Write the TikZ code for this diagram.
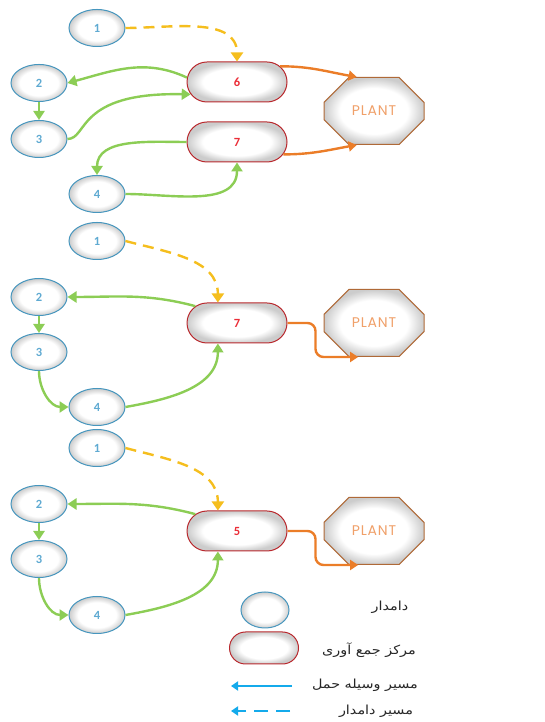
\documentclass[tikz,border=0pt]{standalone}
\usepackage{fontspec}
\setmainfont{Carlito}
\newfontfamily\plantfont[LetterSpace=6]{Poppins}
\newfontfamily\farsi[Script=Arabic,FakeStretch=1.15]{DejaVu Sans}
\TeXXeTstate=1
\usetikzlibrary{shapes.geometric,shapes.misc,arrows.meta,calc}

\definecolor{nodeblue}{RGB}{70,150,190}
\definecolor{numblue}{RGB}{95,170,210}
\definecolor{hubred}{RGB}{185,40,45}
\definecolor{numred}{RGB}{235,45,55}
\definecolor{plantbrown}{RGB}{175,105,55}
\definecolor{plantorange}{RGB}{240,160,105}
\definecolor{routegreen}{RGB}{140,205,85}
\definecolor{routeorange}{RGB}{235,125,40}
\definecolor{routeyellow}{RGB}{245,190,30}
\definecolor{legendblue}{RGB}{20,170,235}

\pgfdeclareradialshading{rim}{\pgfpoint{0bp}{0bp}}{color(0bp)=(white); color(17bp)=(white); color(25bp)=(black!20); color(50bp)=(black!20)}

\begin{document}
\begin{tikzpicture}[
    x=1pt, y=1pt,
    farm/.style={ellipse, draw=nodeblue, line width=1pt, shading=rim, minimum width=56pt, minimum height=37pt, inner sep=0pt, font=\bfseries\fontsize{12.5}{14}\selectfont, text=numblue},
    hub/.style={rounded rectangle, draw=hubred, line width=1pt, shading=rim, minimum width=100pt, minimum height=40pt, inner sep=0pt, font=\bfseries\fontsize{12.5}{14}\selectfont, text=numred},
    plant/.style={chamfered rectangle, chamfered rectangle xsep=29pt, chamfered rectangle ysep=20pt, draw=plantbrown, line width=1pt, shading=rim, minimum width=100pt, minimum height=67pt, inner sep=0pt, font=\plantfont\fontsize{14}{16}\selectfont, text=plantorange},
    route/.style={-{Triangle[width=11pt,length=9pt]}, line width=2.4pt, routegreen},
    walk/.style={-{Triangle[width=12pt,length=9pt]}, line width=2.4pt, routeyellow, dash pattern=on 11pt off 7pt},
    haul/.style={-{Triangle[width=10pt,length=8pt]}, line width=2.4pt, routeorange, rounded corners=8pt},
    key/.style={-{Triangle[width=9pt,length=7pt]}, line width=2pt, legendblue},
    keytext/.style={font=\farsi\fontsize{12.5}{14}\selectfont, text=black!85}
]
    \useasboundingbox (0,0) rectangle (544,722);

    % --- first round: two centres ---
    \node[farm] (a1) at (97,694) {1};
    \node[farm] (a2) at (39,639) {2};
    \node[farm] (a3) at (39,583) {3};
    \node[farm] (a4) at (97,528) {4};
    \node[hub] (c6) at (237,640) {6};
    \node[hub] (c7) at (237,580) {7};
    \node[plant] (pa) at (374,611) {PLANT};
    \draw[walk] (a1.east) to[out=0,in=90] (c6.north);
    \draw[route] (c6.175) to[out=155,in=15] (a2.east);
    \draw[route] (a2.south) -- (a3.north);
    \draw[route] (a3.east) .. controls (88,583) and (76,630) .. (c6.195);
    \draw[route] (c7.west) to[out=180,in=90] (a4.north);
    \draw[route] (a4.east) to[out=0,in=-90] (c7.south);
    \draw[haul] (c6.20) to[out=0,in=170] (pa.117);
    \draw[haul] (c7.-15) to[out=0,in=190] (pa.243);

    % --- second round ---
    \node[farm] (b1) at (97,481) {1};
    \node[farm] (b2) at (39,425) {2};
    \node[farm] (b3) at (39,370) {3};
    \node[farm] (b4) at (97,315) {4};
    \node[hub] (c7b) at (237,399) {7};
    \node[plant] (pb) at (374,399) {PLANT};
    \draw[walk] (b1.east) to[out=-15,in=90] (c7b.133);
    \draw[route] (c7b.158) to[out=165,in=0] (b2.east);
    \draw[route] (b2.south) -- (b3.north);
    \draw[route] (b3.south) to[out=-90,in=180] (b4.west);
    \draw[route] (b4.east) to[out=10,in=-90] (c7b.227);
    \draw[haul] (c7b.east) -- ++(28,0) |- (pb.245);

    % --- third round ---
    \node[farm] (d1) at (97,274) {1};
    \node[farm] (d2) at (39,218) {2};
    \node[farm] (d3) at (39,163) {3};
    \node[farm] (d4) at (97,107) {4};
    \node[hub] (c5) at (237,191) {5};
    \node[plant] (pc) at (374,191) {PLANT};
    \draw[walk] (d1.east) to[out=-15,in=90] (c5.133);
    \draw[route] (c5.158) to[out=165,in=0] (d2.east);
    \draw[route] (d2.south) -- (d3.north);
    \draw[route] (d3.south) to[out=-90,in=180] (d4.west);
    \draw[route] (d4.east) to[out=10,in=-90] (c5.227);
    \draw[haul] (c5.east) -- ++(28,0) |- (pc.245);

    % --- legend ---
    \node[farm, minimum width=48pt, minimum height=36pt] (lf) at (265,112) {};
    \node[hub, minimum width=69pt, minimum height=32pt] (lh) at (264,74) {};
    \coordinate (ks1) at (292,36);
    \coordinate (ke1) at (231,36);
    \coordinate (ks2) at (290,11);
    \coordinate (ke2) at (231,11);
    \draw[key] (ks1) -- (ke1);
    \draw[key, dash pattern=on 14pt off 8pt] (ks2) -- (ke2);
    \node[keytext] (t1) at (390,115) {\beginR دامدار\endR};
    \node[keytext] (t2) at (369,72) {\beginR مرکز جمع آوری\endR};
    \node[keytext] (t3) at (365,37) {\beginR مسیر وسیله حمل\endR};
    \node[keytext] (t4) at (376,11) {\beginR مسیر دامدار\endR};
\end{tikzpicture}
\end{document}
